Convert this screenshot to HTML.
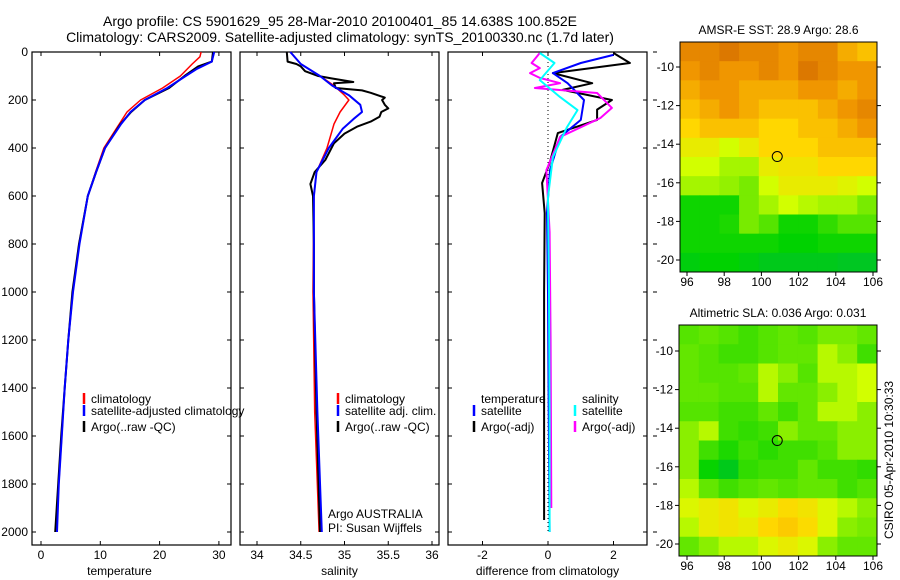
<!DOCTYPE html>
<html><head><meta charset="utf-8"><style>
html,body{margin:0;padding:0;background:#fff;}
svg{display:block;font-family:"Liberation Sans",sans-serif;}
</style></head><body>
<svg id="c" width="900" height="580" viewBox="0 0 900 580">
<text x="340" y="26" font-size="14" text-anchor="middle">Argo profile: CS 5901629_95 28-Mar-2010 20100401_85 14.638S 100.852E</text>
<text x="340" y="42" font-size="14" text-anchor="middle">Climatology: CARS2009. Satellite-adjusted climatology: synTS_20100330.nc (1.7d later)</text>
</svg>
<script>
// ---------- data ----------
const depthTicks=[0,200,400,600,800,1000,1200,1400,1600,1800,2000];
const tempTicks=[0,10,20,30];
const salTicks=[34,34.5,35,35.5,36];
const diffTicks=[-2,0,2];
const tClimD=[0,20,50,100,150,200,250,300,400,500,600,800,1000,1200,1400,1600,1800,2000];
const tClimV=[27,26.8,25.5,23.5,20.5,16.8,14.5,13.2,10.6,9.2,7.9,6.4,5.4,4.6,4.0,3.5,3.0,2.6];
const tArgoD=[0,40,60,100,150,200,250,300,400,500,600,800,1000,1200,1400,1600,1800,2000];
const tArgoV=[29,28.8,26.5,24.2,21.6,17.5,15.2,13.4,10.8,9.3,7.9,6.4,5.3,4.6,4.0,3.4,2.9,2.4];
const tSatD=[0,40,70,100,150,200,250,300,400,500,600,800,1000,1200,1400,1600,1800,2000];
const tSatV=[29.2,28.8,26.3,24.4,21.3,17.5,15.1,13.5,10.8,9.3,7.9,6.5,5.4,4.6,4.0,3.5,3.0,2.7];
const sClimD=[0,50,100,140,180,200,250,300,400,500,600,1000,1500,2000];
const sClimV=[34.38,34.5,34.72,34.88,35.0,35.05,34.95,34.88,34.8,34.68,34.65,34.64,34.66,34.71];
const sSatD=[0,50,100,140,180,220,250,280,320,400,500,600,1000,1500,2000];
const sSatV=[34.38,34.5,34.72,34.86,35.05,35.18,35.2,35.1,34.98,34.82,34.68,34.65,34.65,34.69,34.74];
const sArgoD=[0,40,50,60,80,100,110,125,130,150,160,170,190,200,220,235,250,270,290,310,340,380,450,500,550,600,800,1000,1500,2000];
const sArgoV=[34.34,34.35,34.45,34.5,34.55,34.7,34.85,35.1,34.88,34.9,35.2,35.3,35.46,35.43,35.46,35.5,35.42,35.4,35.3,35.15,35.0,34.88,34.78,34.66,34.61,34.64,34.65,34.65,34.68,34.72];
const dTArgoD=[4,46,88,130,158,200,240,283,338,463,546,671,1000,1500,1950];
const dTArgoV=[2.0,2.5,0.15,1.35,0.45,1.95,1.5,1.5,0.3,0.05,-0.18,-0.1,-0.12,-0.12,-0.12];
const dTSatD=[12,46,88,130,200,283,354,492,671,1000,1500,2000];
const dTSatV=[2.0,1.0,0.15,0.6,1.1,1.0,0.37,0.06,-0.03,0.0,0.02,0.05];
const dSSatD=[4,46,117,188,242,313,438,604,1000,1500,2000];
const dSSatV=[-0.25,0.2,-0.25,0.37,0.9,0.58,0.15,0.0,0.03,0.05,0.05];
const dSArgoD=[4,46,67,88,108,130,150,171,233,275,354,492,750,1200,1900];
const dSArgoV=[-0.25,-0.5,-0.25,-0.55,-0.25,0.37,-0.4,1.5,1.95,1.6,0.37,-0.05,0.05,0.08,0.1];
const lonTicks=[96,98,100,102,104,106];
const latTicks=[-10,-12,-14,-16,-18,-20];
const sstGrid=[
[.85,.85,.9,.85,.85,.8,.85,.85,.75,.7],
[.8,.85,.8,.8,.85,.8,.9,.85,.8,.8],
[.75,.8,.8,.75,.75,.75,.8,.8,.75,.8],
[.7,.75,.8,.75,.7,.7,.7,.75,.8,.85],
[.65,.7,.7,.7,.65,.65,.7,.7,.75,.8],
[.6,.6,.55,.6,.65,.65,.65,.7,.7,.7],
[.55,.55,.5,.5,.6,.62,.62,.65,.65,.65],
[.5,.5,.48,.45,.55,.6,.6,.6,.58,.55],
[.3,.3,.3,.45,.5,.55,.52,.5,.5,.45],
[.3,.3,.32,.45,.4,.3,.3,.35,.4,.4],
[.3,.3,.3,.3,.3,.28,.28,.3,.3,.3],
[.25,.28,.28,.25,.22,.22,.22,.22,.2,.2]];
const slaGrid=[
[.4,.42,.4,.37,.4,.42,.4,.45,.45,.42],
[.42,.4,.37,.37,.4,.42,.42,.52,.47,.37],
[.42,.4,.4,.42,.52,.47,.4,.52,.52,.55],
[.42,.42,.4,.4,.52,.42,.42,.47,.52,.55],
[.4,.4,.37,.37,.42,.37,.42,.52,.52,.47],
[.47,.52,.37,.35,.37,.47,.42,.42,.47,.47],
[.47,.37,.32,.37,.34,.37,.37,.4,.47,.47],
[.47,.29,.22,.35,.37,.37,.42,.37,.37,.35],
[.52,.42,.37,.4,.42,.4,.42,.42,.37,.4],
[.57,.6,.62,.57,.6,.64,.62,.57,.52,.47],
[.52,.6,.62,.6,.65,.68,.64,.57,.47,.45],
[.42,.47,.52,.52,.57,.6,.57,.47,.42,.42]];
// ---------- drawing ----------
const svg=document.getElementById('c');
const NS='http://www.w3.org/2000/svg';
function mk(tag,attrs,parent){const e=document.createElementNS(NS,tag);for(const k in attrs)e.setAttribute(k,attrs[k]);(parent||svg).appendChild(e);return e;}
const yTop=52,yBot=532,frameTop=52,frameBot=545;
function yDepth(d){return yTop+(d/2000)*(yBot-yTop);}
const panels=[
 {name:'temperature-panel',x0:32,x1:231,v0:0,px0:41,scale:5.93,ticks:tempTicks,label:'temperature'},
 {name:'salinity-panel',x0:240,x1:439,v0:34,px0:257,scale:87.5,ticks:salTicks,label:'salinity'},
 {name:'difference-panel',x0:448,x1:647,v0:0,px0:548,scale:32.75,ticks:diffTicks,label:'difference from climatology'}];
function xv(p,v){return p.px0+(v-p.v0)*p.scale;}
panels.forEach((p,i)=>{
 const g=mk('g',{});
 
 
 const r=mk('rect',{x:p.x0,y:frameTop,width:p.x1-p.x0,height:frameBot-frameTop,fill:'none',stroke:'#000','stroke-width':1.2},g);
 
 
 p.ticks.forEach(t=>{
  const x=xv(p,t);
  mk('line',{x1:x,y1:frameBot,x2:x,y2:frameBot-4,stroke:'#000'},g);
  mk('line',{x1:x,y1:frameTop,x2:x,y2:frameTop+4,stroke:'#000'},g);
  const tx=mk('text',{x:x,y:559,'font-size':12,'text-anchor':'middle'},g);
  tx.textContent=t;
  
  
 });
 depthTicks.forEach(d=>{
  const y=yDepth(d);
  mk('line',{x1:p.x0,y1:y,x2:p.x0+4,y2:y,stroke:'#000'},g);
  mk('line',{x1:p.x1,y1:y,x2:p.x1-4,y2:y,stroke:'#000'},g);
  if(i===2) mk('line',{x1:p.x1+6,y1:y,x2:p.x1+10,y2:y,stroke:'#000'},g);
  if(i===0){
   const tx=mk('text',{x:28,y:y+4,'font-size':12,'text-anchor':'end'},g);
   tx.textContent=d;
   
   
  }
 });
 const lb=mk('text',{x:(p.x0+p.x1)/2-(i===0?12:0),y:575,'font-size':12,'text-anchor':'middle'},g);
 lb.textContent=p.label;
 
 
});
function line(p,D,V,color,w,name){
 const pts=D.map((d,k)=>xv(p,V[k]).toFixed(1)+','+yDepth(d).toFixed(1)).join(' ');
 const e=mk('polyline',{points:pts,fill:'none',stroke:color,'stroke-width':w,'stroke-linejoin':'round'});
 
 
}
const P=panels;
const zl=mk('line',{x1:xv(P[2],0),y1:yTop+2,x2:xv(P[2],0),y2:yBot,stroke:'#000','stroke-dasharray':'1,3','stroke-width':1});


line(P[0],tClimD,tClimV,'#f00',1.5,'temp-climatology-line');
line(P[0],tArgoD,tArgoV,'#000',2,'temp-argo-line');
line(P[0],tSatD,tSatV,'#00f',2,'temp-satellite-line');
line(P[1],sClimD,sClimV,'#f00',1.5,'sal-climatology-line');
line(P[1],sArgoD,sArgoV,'#000',2,'sal-argo-line');
line(P[1],sSatD,sSatV,'#00f',2,'sal-satellite-line');
line(P[2],dTArgoD,dTArgoV,'#000',2,'diff-temp-argo-line');
line(P[2],dTSatD,dTSatV,'#00f',2,'diff-temp-satellite-line');
line(P[2],dSArgoD,dSArgoV,'#f0f',2,'diff-sal-argo-line');
line(P[2],dSSatD,dSSatV,'#0ff',2,'diff-sal-satellite-line');
function legend(x,y,color,text,name){
 const g=mk('g',{});
 
 
 if(color) mk('line',{x1:x,y1:y-10,x2:x,y2:y+1,stroke:color,'stroke-width':2.5},g);
 const t=mk('text',{x:x+7,y:y,'font-size':12},g);
 t.textContent=text;
}
legend(84,403,'#f00','climatology','legend-climatology');
legend(84,415,'#00f','satellite-adjusted climatology','legend-satellite-adjusted');
legend(84,431,'#000','Argo(..raw -QC)','legend-argo');
legend(338,403,'#f00','climatology','legend-sal-climatology');
legend(338,415,'#00f','satellite adj. clim.','legend-sal-satellite');
legend(338,431,'#000','Argo(..raw -QC)','legend-sal-argo');
legend(474,403,null,'temperature','legend-temp-heading');
legend(474,415,'#00f','satellite','legend-diff-temp-satellite');
legend(474,431,'#000','Argo(-adj)','legend-diff-temp-argo');
legend(575,403,null,'salinity','legend-sal-heading');
legend(575,415,'#0ff','satellite','legend-diff-sal-satellite');
legend(575,431,'#f0f','Argo(-adj)','legend-diff-sal-argo');
const a1=mk('text',{x:328,y:518,'font-size':12});a1.textContent='Argo AUSTRALIA';

const a2=mk('text',{x:328,y:532,'font-size':12});a2.textContent='PI: Susan Wijffels';

const stops=[[0,[0,170,120]],[0.28,[0,210,0]],[0.45,[120,235,0]],[0.55,[210,255,0]],[0.65,[255,215,0]],[0.8,[240,150,0]],[1,[200,90,0]]];
function cmap(v){for(let k=1;k<stops.length;k++){if(v<=stops[k][0]){const a=stops[k-1],b=stops[k],t=(v-a[0])/(b[0]-a[0]);return 'rgb('+a[1].map((c,j)=>Math.round(c+(b[1][j]-c)*t)).join(',')+')';}}return 'rgb(200,90,0)';}
function map(name,x0,x1,y0,y1,lat10,lat20,grid,title,labelsBottom){
 const g=mk('g',{});
 
 
 const rows=grid.length,cols=grid[0].length,cw=(x1-x0)/cols,ch=(y1-y0)/rows;
 grid.forEach((row,r)=>row.forEach((v,c)=>{
  const cell=mk('rect',{x:x0+c*cw,y:y0+r*ch,width:cw+0.5,height:ch+0.5,fill:cmap(v)},g);
  
  
 }));
 mk('rect',{x:x0,y:y0,width:x1-x0,height:y1-y0,fill:'none',stroke:'#000'},g);
 const lx=lon=>687+(lon-96)*18.6;
 const ly=lat=>lat10+(lat+10)/(-10)*(lat20-lat10);
 lonTicks.forEach(l=>{mk('line',{x1:lx(l),y1:y1,x2:lx(l),y2:y1+4,stroke:'#000'},g);
  if(labelsBottom){const t=mk('text',{x:lx(l),y:y1+14,'font-size':12,'text-anchor':'middle'},g);t.textContent=l;}});
 latTicks.forEach(l=>{const y=ly(l);mk('line',{x1:x0-4,y1:y,x2:x0,y2:y,stroke:'#000'},g);
  mk('line',{x1:x1,y1:y,x2:x1+4,y2:y,stroke:'#000'},g);
  const t=mk('text',{x:x0-6,y:y+4,'font-size':12,'text-anchor':'end'},g);t.textContent=l;});
 const c=mk('circle',{cx:lx(100.852),cy:ly(-14.638),r:5,fill:'none',stroke:'#000'},g);
 
 
 const t=mk('text',{x:(x0+x1)/2,y:y0-8,'font-size':12,'text-anchor':'middle'},g);t.textContent=title;
 
 
}
map('sst-map',680,877,42,272,67,260,sstGrid,'AMSR-E SST: 28.9 Argo: 28.6',true);
map('sla-map',679,877,325,556,351,544,slaGrid,'Altimetric SLA: 0.036 Argo: 0.031',true);
const st=mk('text',{x:0,y:0,'font-size':12,'text-anchor':'middle',transform:'translate(893,460) rotate(-90)'});
st.textContent='CSIRO 05-Apr-2010 10:30:33';


</script>
</body></html>
